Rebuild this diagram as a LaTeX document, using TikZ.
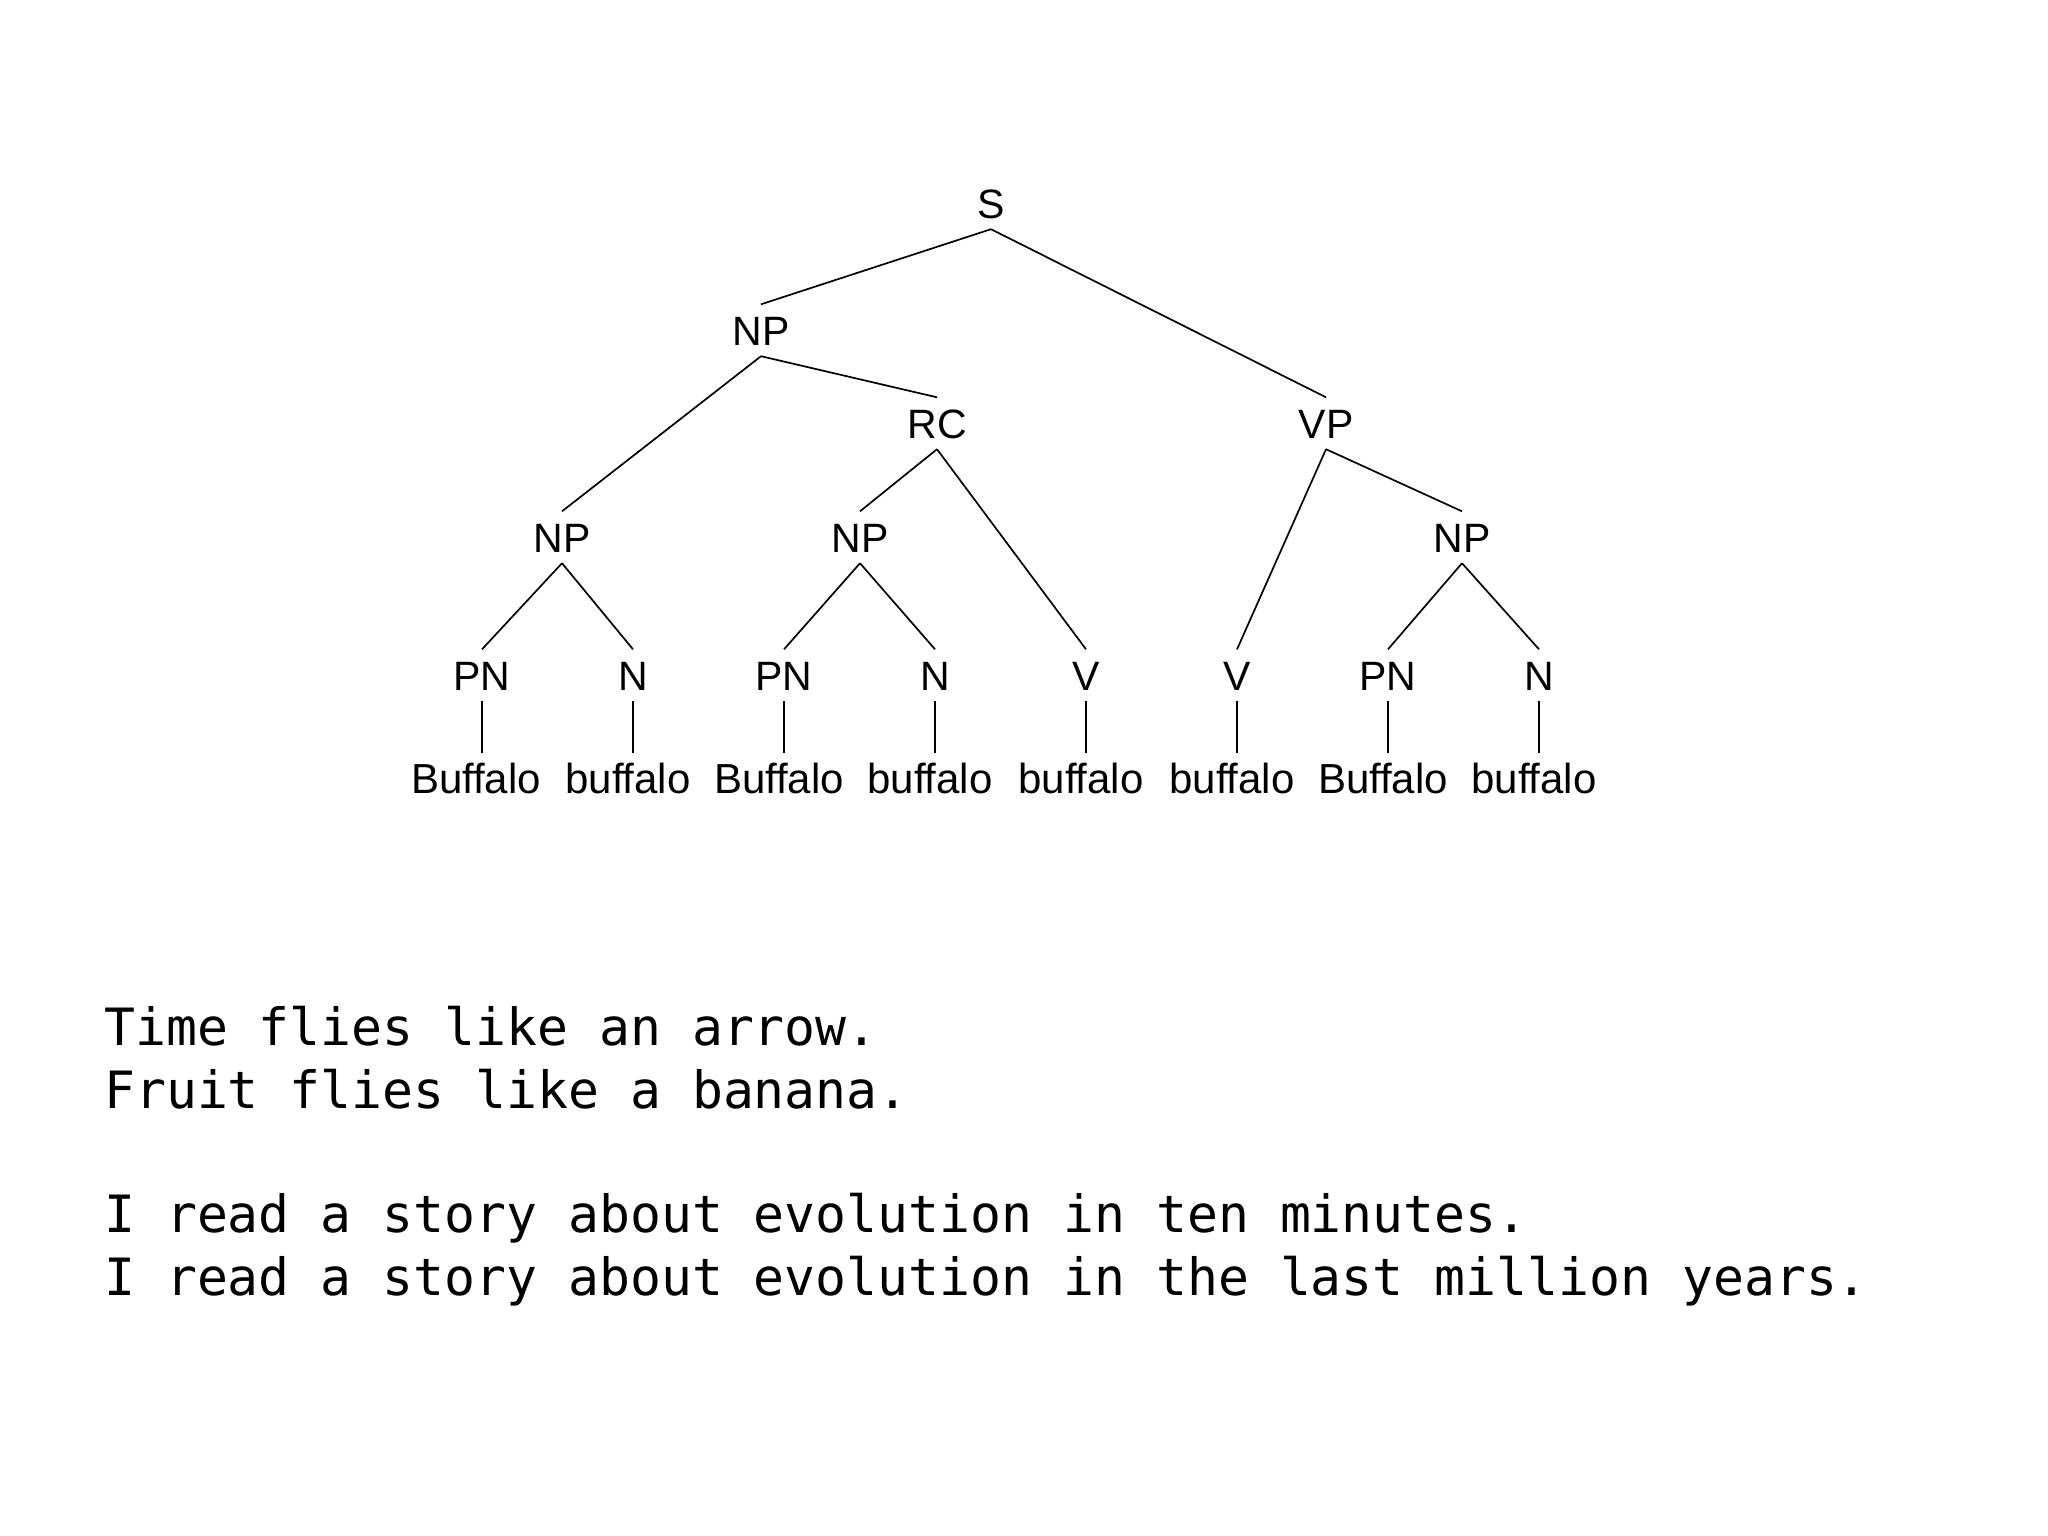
\documentclass[tikz,border=0pt]{standalone}
\usepackage{fontspec}
\setmainfont{Liberation Sans}
\newfontfamily\monofnt{DejaVu Sans Mono}
\begin{document}
\begin{tikzpicture}[x=1pt,y=-1pt,
  lab/.style={anchor=base,inner xsep=0pt,inner ysep=11pt,text height=29.5pt,text depth=0pt,font=\fontsize{41}{48}\selectfont},
  word/.style={anchor=base,inner xsep=0pt,inner ysep=10pt,text height=29.5pt,text depth=0pt,font=\fontsize{42}{48}\selectfont},
  edge/.style={line width=1.7pt},
  mono/.style={anchor=base west,inner sep=0pt,font=\monofnt\fontsize{51.4}{60}\selectfont}]
\useasboundingbox (0,0) rectangle (2048,1535);
% internal nodes
\node[lab] (S) at (991,218) {S};
\node[lab] (NPa) at (761,345) {NP};
\node[lab] (RC) at (937,438) {RC};
\node[lab] (VP) at (1326,438) {VP};
\node[lab] (NPb) at (562,552) {NP};
\node[lab] (NPc) at (860,552) {NP};
\node[lab] (NPd) at (1462,552) {NP};
% preterminals
\node[lab] (t1) at (482,690) {PN};
\node[lab] (t2) at (633,690) {N};
\node[lab] (t3) at (784,690) {PN};
\node[lab] (t4) at (935,690) {N};
\node[lab] (t5) at (1086,690) {V};
\node[lab] (t6) at (1237,690) {V};
\node[lab] (t7) at (1388,690) {PN};
\node[lab] (t8) at (1539,690) {N};
% words
\node[word] (w1) at (476,793) {Buffalo};
\node[word] (w2) at (628,793) {buffalo};
\node[word] (w3) at (779,793) {Buffalo};
\node[word] (w4) at (930,793) {buffalo};
\node[word] (w5) at (1081,793) {buffalo};
\node[word] (w6) at (1232,793) {buffalo};
\node[word] (w7) at (1383,793) {Buffalo};
\node[word] (w8) at (1534,793) {buffalo};
% edges
\draw[edge] (S.south) -- (NPa.north);
\draw[edge] (S.south) -- (VP.north);
\draw[edge] (NPa.south) -- (NPb.north);
\draw[edge] (NPa.south) -- (RC.north);
\draw[edge] (RC.south) -- (NPc.north);
\draw[edge] (RC.south) -- (t5.north);
\draw[edge] (VP.south) -- (t6.north);
\draw[edge] (VP.south) -- (NPd.north);
\draw[edge] (NPb.south) -- (t1.north);
\draw[edge] (NPb.south) -- (t2.north);
\draw[edge] (NPc.south) -- (t3.north);
\draw[edge] (NPc.south) -- (t4.north);
\draw[edge] (NPd.south) -- (t7.north);
\draw[edge] (NPd.south) -- (t8.north);
\foreach \i in {1,...,8} {
  \draw[edge] (t\i.south) -- (t\i.south |- w\i.north);
}
% sentences
\node[mono] (l1) at (104,1045) {Time flies like an arrow.};
\node[mono] (l2) at (104,1108) {Fruit flies like a banana.};
\node[mono] (l3) at (104,1232) {I read a story about evolution in ten minutes.};
\node[mono] (l4) at (104,1295) {I read a story about evolution in the last million years.};
\end{tikzpicture}
\end{document}
